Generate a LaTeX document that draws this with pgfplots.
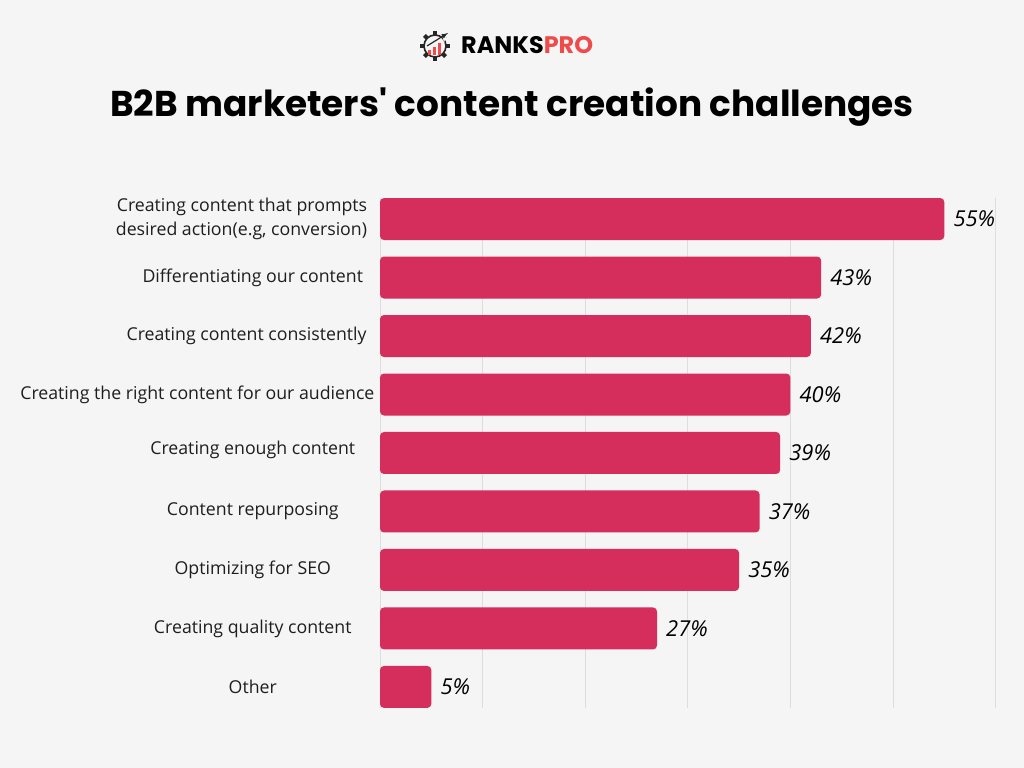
\documentclass[border=0pt]{standalone}
\usepackage{pgfplots}
\pgfplotsset{compat=1.18}
\usepackage{fontspec}
\setmainfont{Open Sans}
\newfontfamily\poppins{Poppins}
\definecolor{bgc}{HTML}{F5F5F5}
\definecolor{barc}{HTML}{D52D5C}
\definecolor{gridc}{HTML}{DDDDDD}
\definecolor{logored}{HTML}{EF4B4B}
\definecolor{labc}{HTML}{1E1E1E}
\begin{document}
\begin{tikzpicture}[x=1bp,y=1bp]
\fill[bgc] (0,0) rectangle (1024,768);
\node[font=\poppins\bfseries\fontsize{36}{44}\selectfont, text=black] at (512,661) {B2B marketers' content creation challenges};
% logo
\node[anchor=west, font=\poppins\bfseries\fontsize{24}{28}\selectfont, inner sep=0] at (461,723) {RANKS\textcolor{logored}{PRO}};
\draw[line width=1.6bp, black!85] (435,722) circle (11);
\foreach \a in {0,45,...,315}{
  \fill[black!85, rotate around={\a:(435,722)}] (433,733) rectangle (437,737);
}
\fill[bgc] (444,726) -- (452,740) -- (440,740) -- cycle;
\fill[logored] (428,713) rectangle (431,718);
\fill[logored] (433,713) rectangle (436,721);
\fill[logored] (438,713) rectangle (441,725);
\draw[black!85, line width=1.2bp, -latex] (427,722) -- (448,735);
\begin{axis}[at={(380bp,570bp)}, anchor=north west, scale only axis,
  width=615.6bp, height=510bp,
  xmin=0, xmax=60, ymin=-0.36, ymax=8.36, y dir=reverse,
  xbar, bar width=42bp,
  axis line style={draw=none},
  xtick={0,10,...,60}, xticklabels={}, ytick=\empty,
  xmajorgrids, grid style={color=gridc, line width=0.8bp},
  major tick length=0, clip=false,
  point meta=x,
  /pgf/number format/assume math mode=true,
  nodes near coords={\pgfmathprintnumber{\pgfplotspointmeta}\%},
  nodes near coords style={anchor=west, inner sep=0, xshift=9bp, font=\itshape\fontsize{22}{24}\selectfont, text=black},
]
\addplot[fill=barc, draw=none, rounded corners=4bp] coordinates {(55,0) (43,1) (42,2) (40,3) (39,4) (37,5) (35,6) (27,7) (5,8)};
\begin{scope}[every node/.style={font=\fontsize{17.8}{24}\selectfont, text=labc, inner sep=0}]
\node[align=right] at (axis cs:-13.5,0) {Creating content that prompts\\desired action(e.g, conversion)};
\node at (axis cs:-12.4,1) {Differentiating our content};
\node at (axis cs:-13.0,2) {Creating content consistently};
\node at (axis cs:-17.8,3) {Creating the right content for our audience};
\node at (axis cs:-12.4,3.95) {Creating enough content};
\node at (axis cs:-12.4,5) {Content repurposing};
\node at (axis cs:-12.4,6) {Optimizing for SEO};
\node at (axis cs:-12.4,7) {Creating quality content};
\node at (axis cs:-12.4,8) {Other};
\end{scope}
\end{axis}
\end{tikzpicture}
\end{document}
